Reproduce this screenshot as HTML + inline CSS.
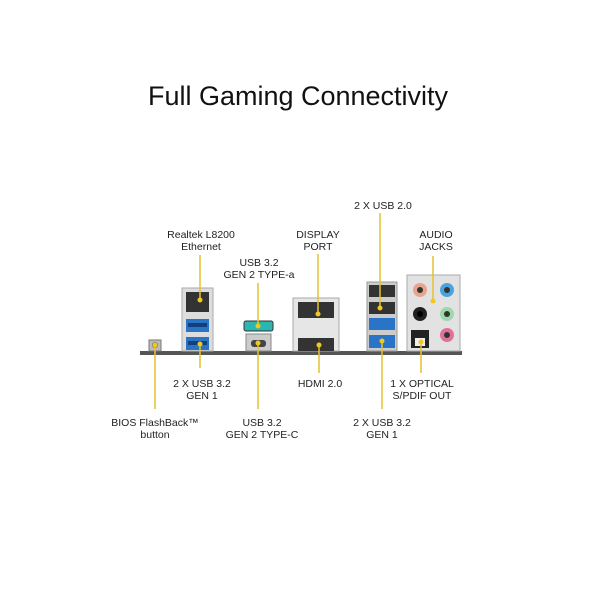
<!DOCTYPE html>
<html><head><meta charset="utf-8"><style>html,body{margin:0;padding:0;background:#fff}svg{display:block}</style></head>
<body>
<svg width="600" height="600" viewBox="0 0 600 600" xmlns="http://www.w3.org/2000/svg" font-family="Liberation Sans, sans-serif">
<rect width="600" height="600" fill="#fff"/>
<text x="148" y="105" font-size="27" fill="#111" textLength="300" lengthAdjust="spacingAndGlyphs">Full Gaming Connectivity</text>
<g font-size="10.5" fill="#222" text-anchor="middle">
<text x="383" y="209">2 X USB 2.0</text>
<text x="201" y="238">Realtek L8200</text><text x="201" y="250">Ethernet</text>
<text x="318" y="238">DISPLAY</text><text x="318" y="250">PORT</text>
<text x="436" y="238">AUDIO</text><text x="436" y="250">JACKS</text>
<text x="259" y="266">USB 3.2</text><text x="259" y="278">GEN 2 TYPE-a</text>
<text x="202" y="387">2 X USB 3.2</text><text x="202" y="399">GEN 1</text>
<text x="320" y="387">HDMI 2.0</text>
<text x="422" y="387">1 X OPTICAL</text><text x="422" y="399">S/PDIF OUT</text>
<text x="155" y="426">BIOS FlashBack™</text><text x="155" y="438">button</text>
<text x="262" y="426">USB 3.2</text><text x="262" y="438">GEN 2 TYPE-C</text>
<text x="382" y="426">2 X USB 3.2</text><text x="382" y="438">GEN 1</text>
</g>
<!-- baseline bar -->
<rect x="140" y="351" width="322" height="4" fill="#555"/>
<!-- BIOS button -->
<rect x="149" y="340" width="12" height="11" fill="#bbb" stroke="#777"/>
<circle cx="155" cy="345" r="3" fill="#665"/>
<!-- Ethernet block -->
<rect x="182" y="288" width="31" height="63" fill="#ddd" stroke="#aaa"/>
<rect x="186" y="292" width="23" height="20" fill="#333"/>
<rect x="186" y="319" width="23" height="13" fill="#2a74c8"/>
<rect x="188" y="323" width="19" height="4" fill="#14407a"/>
<rect x="186" y="337" width="23" height="13" fill="#2a74c8"/>
<rect x="188" y="341" width="19" height="4" fill="#14407a"/>
<!-- Type-a / Type-C -->
<rect x="244" y="321" width="29" height="10" rx="2" fill="#2bb6b0" stroke="#333"/>
<rect x="246" y="334" width="25" height="17" fill="#ccc" stroke="#888"/>
<rect x="251" y="340" width="15" height="7" rx="3" fill="#444"/>
<!-- DP/HDMI -->
<rect x="293" y="298" width="46" height="53" fill="#e6e6e6" stroke="#aaa"/>
<rect x="298" y="302" width="36" height="16" fill="#333"/>
<rect x="298" y="338" width="36" height="13" fill="#333"/>
<!-- USB stack -->
<rect x="367" y="282" width="30" height="69" fill="#ccc" stroke="#999"/>
<rect x="369" y="285" width="26" height="12" fill="#333"/>
<rect x="369" y="302" width="26" height="12" fill="#333"/>
<rect x="369" y="318" width="26" height="12" fill="#2a74c8"/>
<rect x="369" y="335" width="26" height="13" fill="#2a74c8"/>
<!-- Audio panel -->
<rect x="407" y="275" width="53" height="76" fill="#e2e2e2" stroke="#aaa"/>
<circle cx="420" cy="290" r="7" fill="#e8a58e"/><circle cx="420" cy="290" r="3" fill="#333"/>
<circle cx="447" cy="290" r="7" fill="#4aa3dc"/><circle cx="447" cy="290" r="3" fill="#333"/>
<circle cx="420" cy="314" r="7" fill="#222"/><circle cx="420" cy="314" r="3" fill="#000"/>
<circle cx="447" cy="314" r="7" fill="#9fd8a8"/><circle cx="447" cy="314" r="3" fill="#333"/>
<rect x="411" y="330" width="18" height="18" fill="#222"/><rect x="415" y="338" width="10" height="8" fill="#eee"/>
<circle cx="447" cy="335" r="7" fill="#e0729a"/><circle cx="447" cy="335" r="3" fill="#333"/>
<!-- leader lines -->
<g stroke="#e6c12e" stroke-width="1.5">
<line x1="200" y1="255" x2="200" y2="300"/><line x1="200" y1="344" x2="200" y2="368"/>
<line x1="258" y1="283" x2="258" y2="326"/><line x1="258" y1="343" x2="258" y2="409"/>
<line x1="318" y1="254" x2="318" y2="314"/><line x1="319" y1="345" x2="319" y2="373"/>
<line x1="380" y1="213" x2="380" y2="308"/><line x1="382" y1="341" x2="382" y2="409"/>
<line x1="433" y1="256" x2="433" y2="301"/>
<line x1="421" y1="342" x2="421" y2="373"/>
<line x1="155" y1="345" x2="155" y2="409"/>
</g>
<g fill="#f0c81e">
<circle cx="200" cy="300" r="2.5"/><circle cx="200" cy="344" r="2.5"/>
<circle cx="258" cy="326" r="2.5"/><circle cx="258" cy="343" r="2.5"/>
<circle cx="318" cy="314" r="2.5"/><circle cx="319" cy="345" r="2.5"/>
<circle cx="380" cy="308" r="2.5"/><circle cx="382" cy="341" r="2.5"/>
<circle cx="433" cy="301" r="2.5"/><circle cx="421" cy="342" r="2.5"/>
<circle cx="155" cy="345" r="2.5"/>
</g>
</svg>
</body></html>
